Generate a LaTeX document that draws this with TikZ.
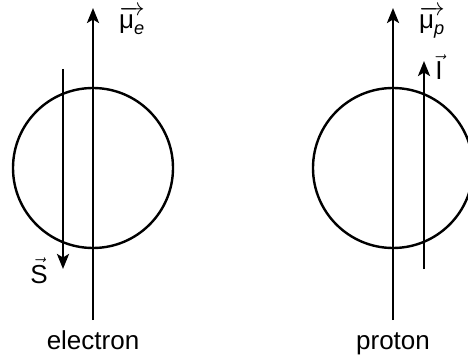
\documentclass[tikz,border=0pt]{standalone}
\usepackage{amsmath}
\usepackage{fontspec}
\setmainfont{Liberation Sans}
\usetikzlibrary{arrows.meta}
\begin{document}
\begin{tikzpicture}[x=1pt,y=-1pt, line width=2.6pt,
  lbl/.style={font=\fontsize{26}{30}\selectfont, inner sep=0pt},
  arr/.style={-{Stealth[length=15pt,width=12pt,inset=3.5pt]}},
  ring/.style={circle, draw, minimum size=160pt, inner sep=0pt, line width=2.4pt}]
\useasboundingbox (0,0) rectangle (468,355);
% electron
\node[ring] (ce) at (93,168) {};
\coordinate (eb) at (93,320);
\coordinate (et) at (93,8);
\draw[arr] (eb) -- (et);
\coordinate (st) at (63,69);
\coordinate (sb) at (63,269);
\draw[arr] (st) -- (sb);
\node[lbl, anchor=base] (mue) at (132,29) {$\overrightarrow{\text{μ}_{\textit{e}}}$};
\node[lbl, anchor=base] (s) at (39,283) {$\vec{\text{S}}$};
\node[lbl, anchor=base] (el) at (93,349) {electron};
% proton
\node[ring] (cp) at (393,168) {};
\coordinate (pb) at (393,320);
\coordinate (pt) at (393,8);
\draw[arr] (pb) -- (pt);
\coordinate (ib) at (424,269);
\coordinate (it) at (424,61);
\draw[arr] (ib) -- (it);
\node[lbl, anchor=base] (mup) at (432,29) {$\overrightarrow{\text{μ}_{\textit{p}}}$};
\node[lbl, anchor=base] (i) at (439,80) {$\vec{\text{I}}$};
\node[lbl, anchor=base] (pr) at (393,349) {proton};
\end{tikzpicture}
\end{document}
